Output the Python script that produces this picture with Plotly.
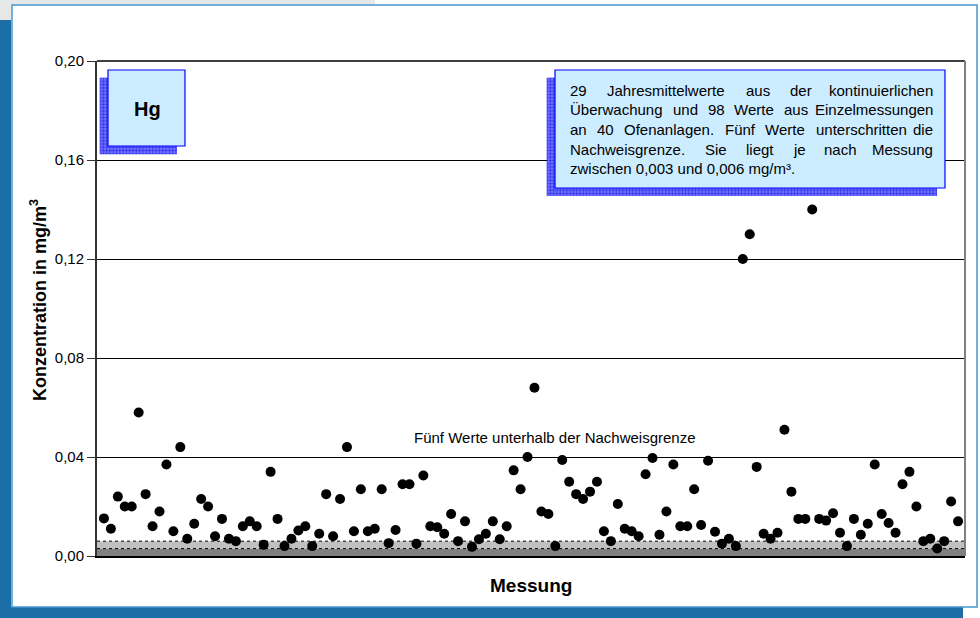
import plotly.graph_objects as go

# ---------------- data ----------------
hg_values = [
    0.0152, 0.011, 0.024, 0.020, 0.020, 0.058, 0.025, 0.012, 0.018, 0.037,
    0.010, 0.044, 0.007, 0.013, 0.023, 0.020, 0.008, 0.015, 0.007, 0.006,
    0.012, 0.014, 0.012, 0.0045, 0.034, 0.015, 0.004, 0.007, 0.0103, 0.012,
    0.004, 0.009, 0.025, 0.008, 0.023, 0.044, 0.010, 0.027, 0.010, 0.011,
    0.027, 0.0052, 0.0105, 0.029, 0.029, 0.005, 0.0325, 0.012, 0.0116, 0.009,
    0.017, 0.006, 0.014, 0.0037, 0.0068, 0.009, 0.014, 0.0068, 0.012, 0.0346,
    0.027, 0.040, 0.068, 0.018, 0.017, 0.004, 0.0388, 0.030, 0.025, 0.023,
    0.026, 0.030, 0.010, 0.006, 0.021, 0.011, 0.010, 0.008, 0.033, 0.0396,
    0.0086, 0.018, 0.037, 0.012, 0.012, 0.027, 0.0125, 0.0385, 0.0098, 0.005,
    0.007, 0.004, 0.120, 0.130, 0.036, 0.009, 0.007, 0.0094, 0.051, 0.026,
    0.015, 0.015, 0.140, 0.015, 0.0143, 0.0173, 0.0094, 0.004, 0.015, 0.0086,
    0.013, 0.037, 0.017, 0.0133, 0.0094, 0.029, 0.034, 0.020, 0.006, 0.007,
    0.003, 0.006, 0.022, 0.014,
]
messung = list(range(1, len(hg_values) + 1))

y_ticks = [0.00, 0.04, 0.08, 0.12, 0.16, 0.20]
y_ticklabels = ["0,00", "0,04", "0,08", "0,12", "0,16", "0,20"]
nachweisgrenze_low = 0.003
nachweisgrenze_high = 0.006

info_lines = [
    "29 Jahresmittelwerte aus der kontinuierlichen",
    "Überwachung und 98 Werte aus Einzelmessungen",
    "an 40 Ofenanlagen. Fünf Werte unterschritten die",
    "Nachweisgrenze. Sie liegt je nach Messung",
    "zwischen 0,003 und 0,006 mg/m³.",
]
info_justify = [True, True, True, True, False]

# ---------------- layout geometry ----------------
W, H = 980, 618
L, R, T, B = 97, 965, 61, 556


def px(x):
    return (x - L) / (R - L)


def py(y):
    return (B - y) / (B - T)


FONT = "Liberation Sans, Arial, sans-serif"

# Arial / Liberation Sans advance widths (1/1000 em) for justification
CW = {" ": 278, ".": 278, ",": 278, "/": 278, "³": 333,
      "a": 556, "b": 556, "c": 500, "d": 556, "e": 556, "f": 278, "g": 556,
      "h": 556, "i": 222, "j": 222, "k": 500, "l": 222, "m": 833, "n": 556,
      "o": 556, "p": 556, "q": 556, "r": 333, "s": 500, "t": 278, "u": 556,
      "v": 500, "w": 722, "x": 500, "y": 500, "z": 500, "ü": 556,
      "E": 667, "F": 611, "J": 500, "M": 833, "N": 722, "O": 778, "S": 667,
      "W": 944, "Ü": 722}


def tw(s, size):
    return sum(CW.get(c, 556) for c in s) * size / 1000.0


fig = go.Figure()
fig.add_trace(go.Scatter(
    x=messung, y=hg_values, mode="markers",
    marker=dict(color="black", size=10, line=dict(width=0)),
    hoverinfo="y", showlegend=False,
))

shapes = []


def rect(x0, y0, x1, y1, fill, line=None, width=0, layer="below"):
    shapes.append(dict(type="rect", xref="paper", yref="paper",
                       x0=px(x0), x1=px(x1), y0=py(y1), y1=py(y0),
                       fillcolor=fill, layer=layer,
                       line=dict(color=line or fill, width=width)))


def grid_shadow(x0, y0, x1, y1):
    rect(x0, y0, x1, y1, "rgb(110,110,255)", layer="above")
    step = 3.3
    parts = []
    x = x0
    while x <= x1 + 0.01:
        parts.append(f"M{px(x)},{py(y0)} L{px(x)},{py(y1)}")
        x += step
    y = y0
    while y <= y1 + 0.01:
        parts.append(f"M{px(x0)},{py(y)} L{px(x1)},{py(y)}")
        y += step
    shapes.append(dict(type="path", xref="paper", yref="paper", path=" ".join(parts),
                       layer="above", line=dict(color="rgb(40,40,230)", width=0.6)))


PAGE_BLUE = "rgb(28,110,166)"
# page decoration
rect(0, 0, 375, 5, "rgb(230,232,232)")
rect(0, 0, 11, 20, "rgb(230,232,232)")
rect(0, 20, 11, 618, PAGE_BLUE)
rect(0, 607, 963, 618, PAGE_BLUE)
shapes.append(dict(type="rect", xref="paper", yref="paper",
                   x0=px(12), x1=px(977), y0=py(607), y1=py(5), layer="below",
                   line=dict(color="rgb(70,150,205)", width=1.5)))

# detection limit bands (data coordinates)
shapes.append(dict(type="rect", xref="paper", yref="y", x0=0, x1=1,
                   y0=0, y1=nachweisgrenze_low, fillcolor="rgb(128,128,128)",
                   line=dict(width=0), layer="below"))
shapes.append(dict(type="rect", xref="paper", yref="y", x0=0, x1=1,
                   y0=nachweisgrenze_low, y1=nachweisgrenze_high,
                   fillcolor="rgb(192,192,192)", line=dict(width=0), layer="below"))
for yv in (nachweisgrenze_low, nachweisgrenze_high):
    shapes.append(dict(type="line", xref="paper", yref="y", x0=0, x1=1,
                       y0=yv, y1=yv, layer="below",
                       line=dict(color="black", width=1, dash="dot")))

# plot frame: top and right
shapes.append(dict(type="line", xref="paper", yref="paper", x0=0, x1=1, y0=1, y1=1,
                   line=dict(color="black", width=1.5)))
shapes.append(dict(type="line", xref="paper", yref="paper", x0=1, x1=1, y0=0, y1=1,
                   line=dict(color="rgb(128,128,128)", width=2)))

# Hg box
grid_shadow(100, 78, 177, 154)
rect(108, 70, 185, 146, "rgb(204,236,255)", "rgb(0,0,255)", 1.2, layer="above")
# info box
grid_shadow(547, 78, 937, 196)
rect(555, 70, 945, 188, "rgb(204,236,255)", "rgb(0,0,255)", 1.2, layer="above")

annotations = []
annotations.append(dict(xref="paper", yref="paper", x=px(147), y=py(109), text="<b>Hg</b>",
                        xanchor="center", yanchor="middle",
                        showarrow=False, font=dict(size=20, color="black", family=FONT)))

# info text lines (justified like the original)
FS = 15
line_y = [90, 109.5, 129.3, 149.3, 168.5]
left_x, right_x = 568, 935
for i, line in enumerate(info_lines):
    yy = py(line_y[i])
    words = line.split(" ")
    if not info_justify[i] or len(words) == 1:
        annotations.append(dict(xref="paper", yref="paper", x=px(left_x), y=yy,
                                xanchor="left", yanchor="middle", text=line,
                                showarrow=False,
                                font=dict(size=FS, color="black", family=FONT)))
        continue
    widths = [tw(w, FS) for w in words]
    gap = (right_x - left_x - sum(widths)) / (len(words) - 1)
    xpos = left_x
    for j, wtxt in enumerate(words):
        if j == len(words) - 1:
            annotations.append(dict(xref="paper", yref="paper", x=px(right_x), y=yy,
                                    xanchor="right", yanchor="middle", text=wtxt,
                                    showarrow=False,
                                    font=dict(size=FS, color="black", family=FONT)))
        else:
            annotations.append(dict(xref="paper", yref="paper", x=px(xpos), y=yy,
                                    xanchor="left", yanchor="middle", text=wtxt,
                                    showarrow=False,
                                    font=dict(size=FS, color="black", family=FONT)))
        xpos += widths[j] + gap

annotations.append(dict(xref="paper", yref="y", x=px(555), y=0.048,
                        text="Fünf Werte unterhalb der Nachweisgrenze",
                        showarrow=False, xanchor="center", yanchor="middle",
                        font=dict(size=15, color="black", family=FONT)))
annotations.append(dict(xref="paper", yref="paper", x=px(38), y=py(300),
                        text="<b>Konzentration in mg/m<sup>3</sup></b>", textangle=-90,
                        showarrow=False, xanchor="center", yanchor="middle",
                        font=dict(size=18, color="black", family=FONT)))
annotations.append(dict(xref="paper", yref="paper", x=px(531), y=py(585),
                        text="<b>Messung</b>", showarrow=False,
                        xanchor="center", yanchor="middle",
                        font=dict(size=19, color="black", family=FONT)))

fig.update_layout(
    width=W, height=H,
    margin=dict(l=L, r=W - R, t=T, b=H - B, pad=0),
    paper_bgcolor="white", plot_bgcolor="white",
    separators=",.",
    font=dict(family=FONT, color="black"),
    xaxis=dict(range=[0, len(hg_values) + 1], showgrid=False, zeroline=False,
               showticklabels=False, ticks="", showline=True,
               linecolor="black", linewidth=1.5, fixedrange=True),
    yaxis=dict(range=[0, 0.20], tickvals=y_ticks, ticktext=y_ticklabels,
               showgrid=True, gridcolor="black", gridwidth=1, zeroline=False,
               showline=True, linecolor="rgb(50,50,50)", linewidth=2,
               ticks="outside", ticklen=8, tickcolor="rgb(50,50,50)", tickwidth=1,
               tickfont=dict(size=15, color="black", family=FONT),
               fixedrange=True),
    shapes=shapes,
    annotations=annotations,
    showlegend=False,
)

fig.write_html("out.html", config={"displayModeBar": False},
               post_script="document.body.style.margin='0';document.body.style.padding='0';")
